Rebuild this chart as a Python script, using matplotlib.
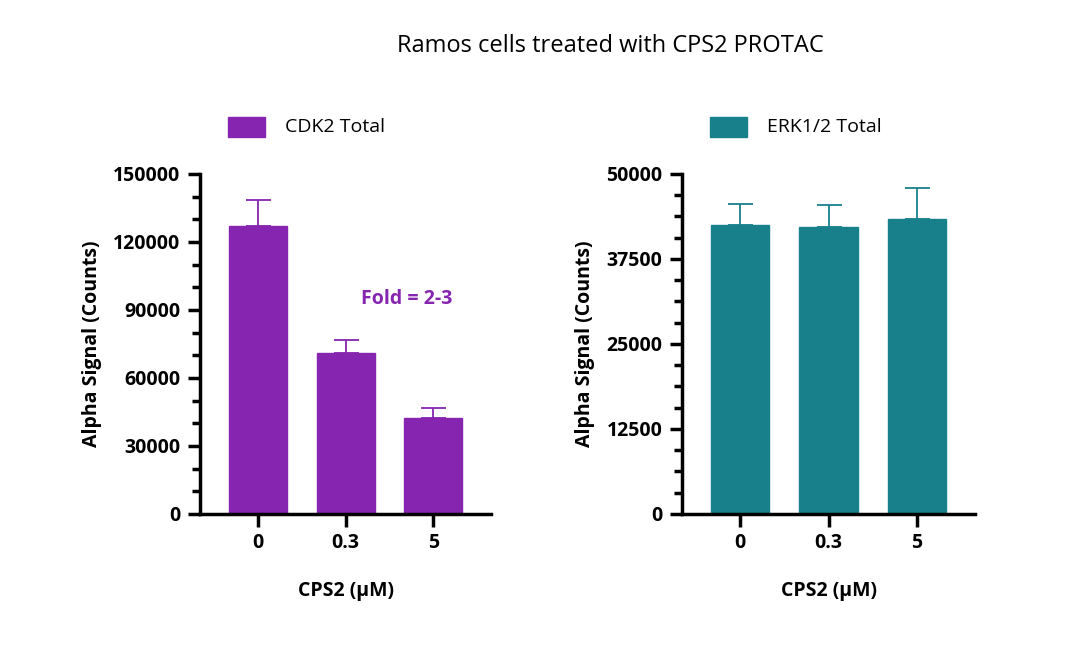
import matplotlib
matplotlib.use("Agg")
import matplotlib.pyplot as plt
from matplotlib.ticker import MultipleLocator
from matplotlib.patches import Rectangle

plt.rcParams['font.family'] = ['Open Sans', 'DejaVu Sans']

categories = ["0", "0.3", "5"]
cdk2_vals = [127000, 71000, 42300]
cdk2_err = [11500, 5800, 4500]
erk_vals = [42500, 42200, 43400]
erk_err = [3100, 3240, 4500]

purple = "#8525B0"
teal = "#17808A"

fig = plt.figure(figsize=(10.8, 6.62), dpi=100)
fig.text(0.565, 0.93, "Ramos cells treated with CPS2 PROTAC", ha="center", va="center", fontsize=17)

def panel(rect, vals, err, color, ymax, major, minor, label):
    ax = fig.add_axes(rect)
    x = list(range(len(categories)))
    ax.bar(x, vals, width=0.66, color=color, edgecolor=color, zorder=2)
    ax.errorbar(x, vals, yerr=[[0]*len(err), err], fmt='none', ecolor=color, elinewidth=1.3, capsize=9, capthick=1.3, zorder=3)
    ax.set_xlim(-0.66, 2.66)
    ax.set_ylim(0, ymax)
    ax.yaxis.set_major_locator(MultipleLocator(major))
    ax.yaxis.set_minor_locator(MultipleLocator(minor))
    ax.set_xticks(x)
    ax.set_xticklabels(categories)
    for s in ['top', 'right']:
        ax.spines[s].set_visible(False)
    for s in ['left', 'bottom']:
        ax.spines[s].set_linewidth(2.5)
    ax.tick_params(axis='both', which='major', width=2.5, length=9, labelsize=14, pad=5)
    ax.tick_params(axis='y', which='minor', width=2.5, length=6)
    for t in ax.get_xticklabels() + ax.get_yticklabels():
        t.set_fontweight('bold')
    ax.set_ylabel("Alpha Signal (Counts)", fontsize=14, fontweight='bold', labelpad=8)
    ax.set_xlabel("CPS2 (µM)", fontsize=14, fontweight='bold', labelpad=20)
    # legend
    l, b, w, h = rect
    fig.patches.append(Rectangle((l + 0.026, 0.793), 0.034, 0.03, transform=fig.transFigure, color=color))
    fig.text(l + 0.079, 0.808, label, fontsize=14, va="center")
    return ax

ax1 = panel([0.185, 0.2236, 0.270, 0.5136], cdk2_vals, cdk2_err, purple, 150000, 30000, 10000, "CDK2 Total")
ax1.text(1.7, 95000, "Fold = 2-3", color=purple, fontsize=14, fontweight='bold', ha="center", va="center")
ax2 = panel([0.6315, 0.2236, 0.2713, 0.5136], erk_vals, erk_err, teal, 50000, 12500, 3125, "ERK1/2 Total")

fig.savefig("out.png", dpi=100)
